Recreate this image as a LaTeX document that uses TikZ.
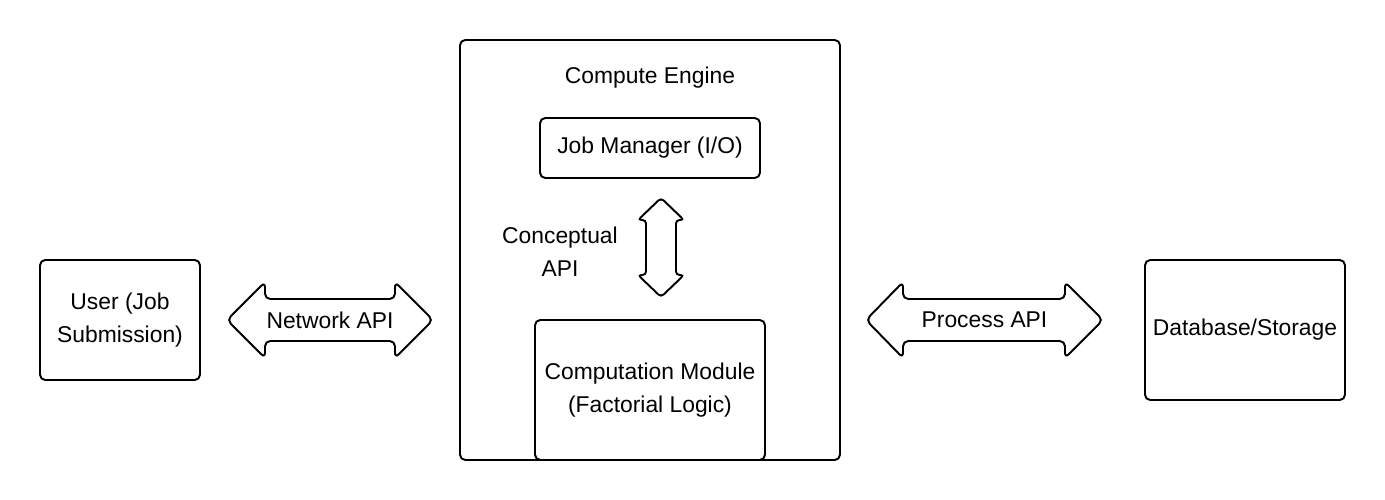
\documentclass[tikz,border=0pt]{standalone}
\usepackage{fontspec}
\setmainfont{Liberation Sans}
\usepackage{tikz}
\usetikzlibrary{positioning}

\begin{document}
\begin{tikzpicture}[font=\fontsize{13}{18.5}\selectfont,
  block/.style={rectangle, rounded corners=3pt, draw=black, line width=1.1pt,
    fill=white, align=center, inner sep=0pt},
  apiarrow/.style={draw=black, line width=1.1pt, fill=white, rounded corners=3pt},
  title/.style={align=center, inner sep=0pt}
]
\useasboundingbox (0,0) rectangle (27.7,-10);
\node[block, minimum width=3.2cm, minimum height=2.4cm] (user) at (2.4,-6.4) {User (Job\\Submission)};
\node[block, minimum width=7.6cm, minimum height=8.4cm] (engine) at (13,-5) {};
\node[title] (enginetitle) at (13,-1.56) {Compute Engine};
\node[block, minimum width=4.4cm, minimum height=1.2cm] (jobmgr) at (13,-2.96) {Job Manager (I/O)};
\node[block, minimum width=4.6cm, minimum height=2.8cm] (compmod) at (13,-7.8) {Computation Module\\(Factorial Logic)};
\node[block, minimum width=4cm, minimum height=2.8cm] (db) at (24.9,-6.6) {Database/Storage};
% double arrows
\draw[apiarrow] (4.54,-6.4) -- (5.3,-5.64) -- (5.3,-5.98) -- (7.9,-5.98) -- (7.9,-5.64)
  -- (8.66,-6.4) -- (7.9,-7.16) -- (7.9,-6.82) -- (5.3,-6.82) -- (5.3,-7.16) -- cycle;
\draw[apiarrow] (17.32,-6.4) -- (18.06,-5.64) -- (18.06,-5.98) -- (21.3,-5.98) -- (21.3,-5.64)
  -- (22.06,-6.4) -- (21.3,-7.16) -- (21.3,-6.82) -- (18.06,-6.82) -- (18.06,-7.16) -- cycle;
\draw[apiarrow, rounded corners=2pt] (13.22,-3.96) -- (13.68,-4.4) -- (13.52,-4.4) -- (13.52,-5.5) -- (13.68,-5.5)
  -- (13.22,-5.94) -- (12.76,-5.5) -- (12.92,-5.5) -- (12.92,-4.4) -- (12.76,-4.4) -- cycle;
\node[title] (netapi) at (6.6,-6.4) {Network API};
\node[title] (procapi) at (19.69,-6.4) {Process API};
\node[title] (capilabel) at (11.2,-5.03) {Conceptual\\API};
\end{tikzpicture}
\end{document}
